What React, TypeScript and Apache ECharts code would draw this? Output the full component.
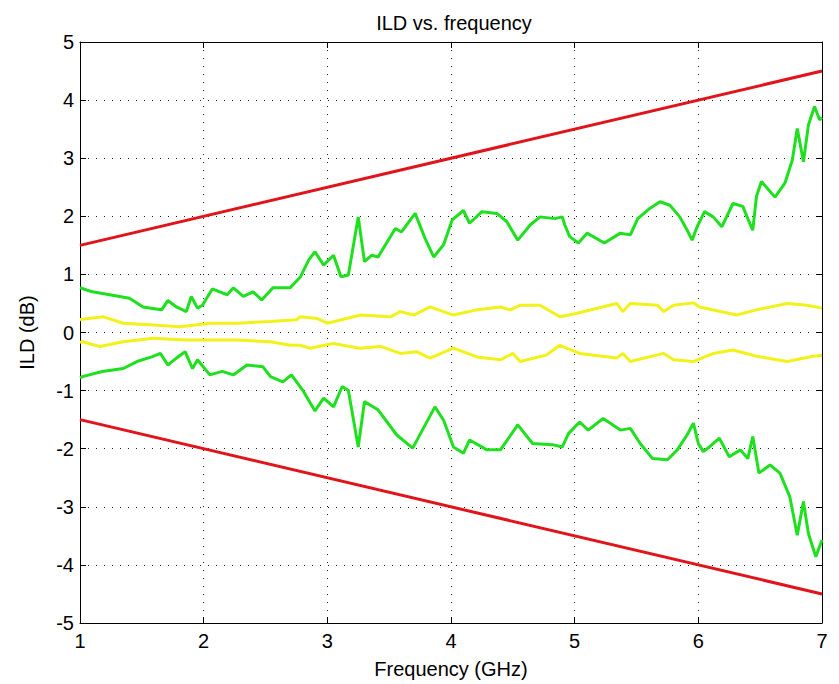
import React, { useEffect, useRef } from "react";
import * as echarts from "echarts";

const xTicks = [1, 2, 3, 4, 5, 6, 7];
const yTicks = [-5, -4, -3, -2, -1, 0, 1, 2, 3, 4, 5];

const redFreq = [1, 7];
const redUpper = [1.5, 4.5];
const redLower = [-1.5, -4.5];

const greenUpperFreq = [1.0, 1.1, 1.24, 1.4, 1.51, 1.6, 1.66, 1.71, 1.78, 1.86, 1.9, 1.95, 1.99, 2.07, 2.13, 2.19, 2.24, 2.32, 2.4, 2.47, 2.56, 2.7, 2.78, 2.85, 2.9, 2.97, 3.05, 3.11, 3.17, 3.25, 3.3, 3.36, 3.41, 3.55, 3.6, 3.71, 3.79, 3.86, 3.94, 4.01, 4.1, 4.15, 4.25, 4.37, 4.45, 4.54, 4.64, 4.72, 4.84, 4.9, 4.92, 4.96, 5.03, 5.1, 5.24, 5.37, 5.45, 5.51, 5.61, 5.69, 5.77, 5.85, 5.91, 5.95, 5.99, 6.05, 6.12, 6.19, 6.28, 6.36, 6.4, 6.44, 6.47, 6.51, 6.62, 6.7, 6.76, 6.8, 6.85, 6.89, 6.94, 6.98, 7.0];
const greenUpper = [0.77, 0.7, 0.65, 0.59, 0.44, 0.41, 0.39, 0.55, 0.44, 0.36, 0.62, 0.42, 0.47, 0.75, 0.7, 0.65, 0.77, 0.62, 0.7, 0.56, 0.77, 0.77, 0.95, 1.25, 1.39, 1.16, 1.33, 0.96, 0.99, 1.99, 1.22, 1.33, 1.3, 1.79, 1.73, 2.05, 1.62, 1.3, 1.51, 1.94, 2.1, 1.88, 2.08, 2.05, 1.91, 1.59, 1.85, 1.99, 1.96, 1.99, 1.85, 1.65, 1.54, 1.71, 1.54, 1.71, 1.68, 1.96, 2.14, 2.25, 2.19, 1.99, 1.76, 1.59, 1.82, 2.08, 1.99, 1.82, 2.22, 2.17, 1.96, 1.76, 2.34, 2.6, 2.33, 2.57, 2.97, 3.51, 2.94, 3.57, 3.89, 3.66, 3.7];

const greenLowerFreq = [1.0, 1.02, 1.18, 1.35, 1.46, 1.58, 1.65, 1.71, 1.78, 1.85, 1.91, 1.95, 2.05, 2.15, 2.24, 2.35, 2.48, 2.54, 2.64, 2.71, 2.8, 2.9, 2.97, 3.05, 3.12, 3.17, 3.25, 3.3, 3.41, 3.56, 3.69, 3.87, 3.94, 4.02, 4.1, 4.15, 4.29, 4.4, 4.54, 4.66, 4.82, 4.9, 4.95, 5.04, 5.11, 5.23, 5.37, 5.45, 5.53, 5.63, 5.75, 5.83, 5.91, 5.96, 6.0, 6.04, 6.09, 6.17, 6.25, 6.34, 6.4, 6.44, 6.49, 6.58, 6.66, 6.74, 6.8, 6.85, 6.89, 6.95, 7.0];
const greenLower = [-0.78, -0.76, -0.67, -0.62, -0.5, -0.42, -0.36, -0.56, -0.44, -0.33, -0.62, -0.47, -0.73, -0.67, -0.73, -0.56, -0.59, -0.76, -0.85, -0.73, -0.99, -1.35, -1.13, -1.28, -0.93, -1.0, -1.97, -1.19, -1.33, -1.76, -1.99, -1.28, -1.51, -1.97, -2.08, -1.85, -2.02, -2.02, -1.59, -1.91, -1.93, -1.97, -1.74, -1.54, -1.68, -1.48, -1.68, -1.65, -1.91, -2.17, -2.19, -2.02, -1.76, -1.56, -1.91, -2.05, -1.97, -1.82, -2.14, -2.02, -2.17, -1.79, -2.42, -2.28, -2.42, -2.83, -3.49, -2.91, -3.46, -3.86, -3.57];

const yellowUpperFreq = [1.0, 1.02, 1.19, 1.35, 1.59, 1.81, 2.05, 2.27, 2.54, 2.75, 2.78, 2.92, 3.0, 3.27, 3.51, 3.59, 3.7, 3.83, 4.02, 4.21, 4.4, 4.48, 4.56, 4.72, 4.88, 5.02, 5.34, 5.39, 5.45, 5.67, 5.72, 5.8, 5.96, 6.01, 6.31, 6.47, 6.72, 6.88, 7.0];
const yellowUpper = [0.22, 0.23, 0.27, 0.16, 0.13, 0.1, 0.16, 0.16, 0.19, 0.22, 0.27, 0.24, 0.16, 0.3, 0.27, 0.36, 0.3, 0.44, 0.3, 0.39, 0.44, 0.39, 0.47, 0.47, 0.27, 0.33, 0.5, 0.36, 0.5, 0.47, 0.36, 0.47, 0.51, 0.44, 0.3, 0.39, 0.5, 0.47, 0.42];

const yellowLowerFreq = [1.0, 1.02, 1.16, 1.35, 1.59, 1.86, 2.05, 2.27, 2.54, 2.7, 2.78, 2.86, 3.05, 3.26, 3.43, 3.59, 3.72, 3.83, 4.02, 4.21, 4.4, 4.5, 4.56, 4.77, 4.88, 5.04, 5.34, 5.39, 5.45, 5.72, 5.8, 5.96, 6.12, 6.28, 6.47, 6.72, 6.93, 7.0];
const yellowLower = [-0.17, -0.16, -0.24, -0.16, -0.1, -0.13, -0.13, -0.13, -0.16, -0.22, -0.22, -0.27, -0.19, -0.27, -0.24, -0.36, -0.33, -0.44, -0.27, -0.42, -0.47, -0.36, -0.5, -0.39, -0.22, -0.36, -0.44, -0.36, -0.5, -0.36, -0.47, -0.5, -0.36, -0.3, -0.41, -0.5, -0.41, -0.39];

const pairs = (xs: number[], ys: number[]) => xs.map((x, i) => [x, ys[i]]);

const FONT = "Liberation Sans";
const FS = 20;

export default function App() {
  const ref = useRef<HTMLDivElement>(null);
  useEffect(() => {
    if (!ref.current) return;
    const chart = echarts.init(ref.current, null, { renderer: "svg" });
    const mkLine = (name: string, data: number[][], color: string) => ({
      name,
      type: "line",
      data,
      showSymbol: false,
      symbol: "none",
      lineStyle: { color, width: 3 },
      itemStyle: { color },
      xAxisIndex: 0,
      yAxisIndex: 0,
      z: 3,
    });
    chart.setOption({
      animation: false,
      backgroundColor: "#ffffff",
      title: {
        text: "ILD vs. frequency",
        left: 449,
        textAlign: "center",
        top: 8,
        textStyle: { fontFamily: FONT, fontSize: FS, fontWeight: "normal", color: "#000" },
      },
      grid: { left: 80, right: 17, top: 42, bottom: 61, containLabel: false },
      xAxis: [
        {
          type: "value",
          min: xTicks[0],
          max: xTicks[xTicks.length - 1],
          interval: 1,
          position: "bottom",
          name: "Frequency (GHz)",
          nameLocation: "middle",
          nameGap: 36,
          nameTextStyle: { fontFamily: FONT, fontSize: FS, color: "#000" },
          axisLine: { show: true, onZero: false, lineStyle: { color: "#000", width: 1 } },
          axisTick: { show: true, inside: true, length: 6, lineStyle: { color: "#000" } },
          axisLabel: { fontFamily: FONT, fontSize: FS, color: "#000", margin: 8 },
          splitLine: { show: true, lineStyle: { color: "#222", width: 1, type: [1, 7] } },
        },
        {
          type: "value",
          min: xTicks[0],
          max: xTicks[xTicks.length - 1],
          interval: 1,
          position: "top",
          axisLine: { show: true, onZero: false, lineStyle: { color: "#000", width: 1 } },
          axisTick: { show: true, inside: true, length: 6, lineStyle: { color: "#000" } },
          axisLabel: { show: false },
          splitLine: { show: false },
        },
      ],
      yAxis: [
        {
          type: "value",
          min: yTicks[0],
          max: yTicks[yTicks.length - 1],
          interval: 1,
          position: "left",
          name: "ILD (dB)",
          nameLocation: "middle",
          nameGap: 43,
          nameRotate: 90,
          nameTextStyle: { fontFamily: FONT, fontSize: FS, color: "#000" },
          axisLine: { show: true, onZero: false, lineStyle: { color: "#000", width: 1 } },
          axisTick: { show: true, inside: true, length: 6, lineStyle: { color: "#000" } },
          axisLabel: { fontFamily: FONT, fontSize: FS, color: "#000", margin: 6 },
          splitLine: { show: true, lineStyle: { color: "#222", width: 1, type: [1, 7] } },
        },
        {
          type: "value",
          min: yTicks[0],
          max: yTicks[yTicks.length - 1],
          interval: 1,
          position: "right",
          axisLine: { show: true, onZero: false, lineStyle: { color: "#000", width: 1 } },
          axisTick: { show: true, inside: true, length: 6, lineStyle: { color: "#000" } },
          axisLabel: { show: false },
          splitLine: { show: false },
        },
      ],
      series: [
        mkLine("yellow upper", pairs(yellowUpperFreq, yellowUpper), "#f2f21a"),
        mkLine("yellow lower", pairs(yellowLowerFreq, yellowLower), "#f2f21a"),
        mkLine("green upper", pairs(greenUpperFreq, greenUpper), "#1fe01f"),
        mkLine("green lower", pairs(greenLowerFreq, greenLower), "#1fe01f"),
        mkLine("red upper", pairs(redFreq, redUpper), "#e0141a"),
        mkLine("red lower", pairs(redFreq, redLower), "#e0141a"),
      ],
    });
    return () => chart.dispose();
  }, []);
  return (
    <div
      ref={ref}
      style={{ position: "fixed", left: 0, top: 0, width: 839, height: 684, background: "#fff" }}
    />
  );
}
